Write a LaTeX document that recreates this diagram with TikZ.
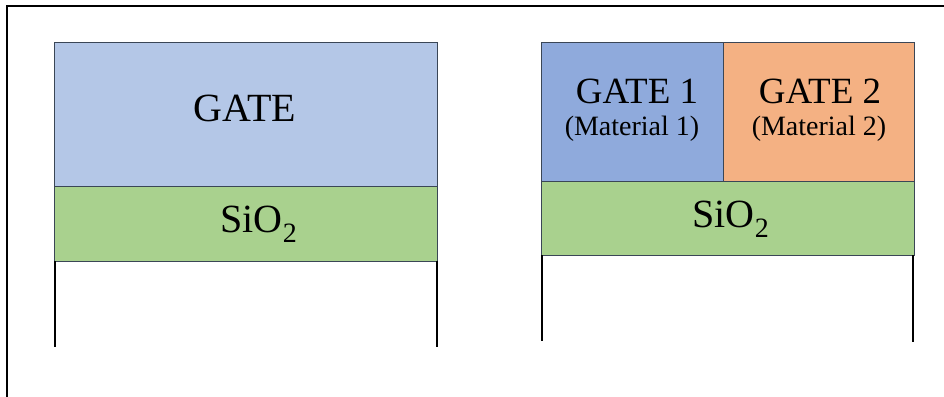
\documentclass[tikz,border=0pt]{standalone}
\usepackage{fontspec}
\setmainfont{Liberation Serif}
\definecolor{gatelight}{HTML}{B4C7E7}
\definecolor{gateblue}{HTML}{8FAADC}
\definecolor{gateorange}{HTML}{F4B183}
\definecolor{oxide}{HTML}{A9D18E}
\definecolor{edge}{HTML}{3A4656}
\tikzset{
  layer/.style={draw=edge, line width=0.9pt, inner sep=0pt, outer sep=0pt, anchor=north west},
  leg/.style={line width=2.6pt, black},
  bigtxt/.style={font=\fontsize{40}{42}\selectfont},
  midtxt/.style={font=\fontsize{37}{39}\selectfont},
  smalltxt/.style={font=\fontsize{28}{30}\selectfont},
}
\begin{document}
\begin{tikzpicture}[x=1pt, y=-1pt]
  \useasboundingbox (0,0) rectangle (944,396);
  % outer frame
  \draw[line width=1.6pt] (7,400) -- (7,6) -- (950,6);

  % single-gate stack
  \node[layer, fill=gatelight, minimum width=383pt, minimum height=144pt] (g) at (54,42) {};
  \node[layer, fill=oxide, minimum width=383pt, minimum height=75pt] (ox1) at (54,186) {};
  \node[bigtxt] at (245,108) {GATE};
  \node[bigtxt] at (259,224) {SiO\textsubscript{2}};
  \coordinate (l1) at (55,347);
  \coordinate (r1) at (437,347);
  \draw[leg] (ox1.south west) ++(1pt,0) -- (l1);
  \draw[leg] (ox1.south east) -- (r1);

  % dual-gate stack
  \node[layer, fill=gateblue, minimum width=182pt, minimum height=139pt] (g1) at (541,42) {};
  \node[layer, fill=gateorange, minimum width=191pt, minimum height=139pt] (g2) at (723,42) {};
  \node[layer, fill=oxide, minimum width=373pt, minimum height=74pt] (ox2) at (541,181) {};
  \node[midtxt] at (637,91) {GATE 1};
  \node[smalltxt] at (632,129) {(Material 1)};
  \node[midtxt] at (820,91) {GATE 2};
  \node[smalltxt] at (819,129) {(Material 2)};
  \node[bigtxt] at (731,219) {SiO\textsubscript{2}};
  \coordinate (l2) at (542,341);
  \coordinate (r2) at (913,342);
  \draw[leg] (ox2.south west) ++(1pt,0) -- (l2);
  \draw[leg] (ox2.south east) ++(-1pt,0) -- (r2);
\end{tikzpicture}
\end{document}
